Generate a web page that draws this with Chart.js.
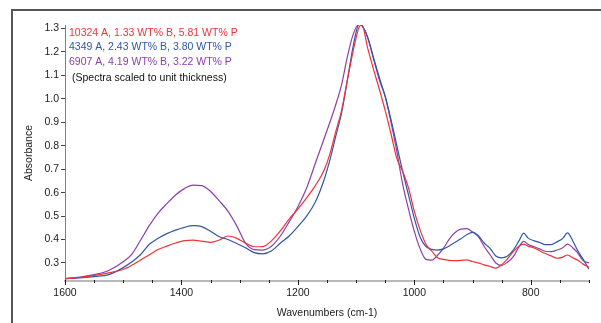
<!DOCTYPE html>
<html><head><meta charset="utf-8">
<script src="https://cdn.jsdelivr.net/npm/chart.js@4.4.1/dist/chart.umd.min.js"></script>
<style>html,body{margin:0;padding:0;background:#fff;overflow:hidden}canvas{display:block}</style>
</head><body>
<canvas id="c" width="601" height="323"></canvas>
<script>
// ---- data ----
const wavenumbers = [1600,1575,1550,1525,1500,1485,1470,1455,1440,1425,1410,1395,1380,1365,1350,1335,1320,1305,1290,1275,1260,1245,1230,1215,1200,1185,1170,1155,1145,1135,1125,1115,1105,1095,1090,1080,1070,1060,1050,1040,1030,1020,1010,1000,990,980,970,960,950,940,930,920,910,900,890,880,870,860,850,840,830,820,812,805,795,785,775,765,755,745,737,728,720,710,700];
const absorb10324 = [0.233,0.238,0.247,0.258,0.272,0.290,0.313,0.335,0.357,0.372,0.385,0.395,0.397,0.393,0.388,0.398,0.415,0.405,0.385,0.369,0.370,0.395,0.437,0.487,0.530,0.578,0.630,0.695,0.765,0.860,0.950,1.080,1.205,1.305,1.315,1.215,1.125,1.040,0.950,0.850,0.745,0.690,0.620,0.520,0.440,0.380,0.350,0.322,0.315,0.311,0.310,0.311,0.313,0.306,0.300,0.292,0.285,0.278,0.292,0.318,0.348,0.372,0.380,0.372,0.365,0.352,0.340,0.330,0.320,0.325,0.334,0.322,0.313,0.295,0.282];
const absorb4349 = [0.233,0.236,0.242,0.250,0.280,0.305,0.336,0.380,0.405,0.425,0.440,0.452,0.459,0.455,0.435,0.412,0.400,0.383,0.365,0.344,0.339,0.352,0.385,0.415,0.455,0.500,0.560,0.655,0.740,0.840,0.940,1.080,1.225,1.318,1.312,1.262,1.175,1.090,1.010,0.910,0.800,0.690,0.590,0.490,0.410,0.370,0.358,0.355,0.360,0.372,0.388,0.403,0.420,0.430,0.416,0.385,0.362,0.330,0.322,0.330,0.355,0.395,0.427,0.407,0.395,0.388,0.378,0.378,0.390,0.405,0.428,0.395,0.355,0.315,0.273];
const absorb6907 = [0.233,0.240,0.250,0.268,0.305,0.338,0.398,0.460,0.513,0.553,0.590,0.617,0.632,0.630,0.605,0.565,0.520,0.458,0.385,0.357,0.355,0.372,0.415,0.475,0.540,0.620,0.725,0.830,0.900,0.975,1.060,1.180,1.275,1.318,1.312,1.260,1.170,1.080,1.010,0.900,0.775,0.635,0.530,0.435,0.360,0.315,0.312,0.333,0.362,0.402,0.430,0.444,0.446,0.432,0.412,0.370,0.335,0.300,0.290,0.303,0.327,0.370,0.392,0.380,0.370,0.360,0.350,0.348,0.355,0.365,0.380,0.365,0.345,0.310,0.300];
const seriesLabels = ['10324 A, 1.33 WT% B, 5.81 WT% P','4349 A, 2.43 WT% B, 3.80 WT% P','6907 A, 4.19 WT% B, 3.22 WT% P'];
const noteText = '(Spectra scaled to unit thickness)';
const xTickValues = [1600,1550,1500,1450,1400,1350,1300,1250,1200,1150,1100,1050,1000,950,900,850,800,750,700];
const xLabelValues = [1600,1400,1200,1000,800];
const yTickValues = [0.3,0.4,0.5,0.6,0.7,0.8,0.9,1.0,1.1,1.2,1.3];
const xTitle = 'Wavenumbers (cm-1)';
const yTitle = 'Absorbance';

// ---- style ----
const colors = ['#f0323a','#2f57a6','#8c3fa6'];
const FONT = {family:'"Liberation Sans", Arial, sans-serif', size:10.5};

const toPts = arr => wavenumbers.map((w,i)=>({x:w,y:arr[i]}));

const framePlugin = {
  id:'frame',
  beforeDraw(chart){
    const c = chart.ctx;
    c.save();
    c.fillStyle='#fff'; c.fillRect(0,0,chart.width,chart.height);
    c.fillStyle='#555';
    c.fillRect(11,9,chart.width-11,2);
    c.fillRect(11,9,2,chart.height-9);
    c.restore();
  },
  afterDraw(chart){
    const c = chart.ctx, xs = chart.scales.x, ca = chart.chartArea;
    c.save();
    c.strokeStyle='#222'; c.lineWidth=1;
    xs.ticks.forEach(t=>{
      const px = Math.round(xs.getPixelForValue(t.value))+0.5;
      const major = xLabelValues.includes(t.value);
      c.beginPath(); c.moveTo(px, ca.bottom-1); c.lineTo(px, ca.bottom + (major?4:2)); c.stroke();
    });
    // annotation text
    c.font = FONT.size+'px '+FONT.family;
    c.textBaseline='middle'; c.textAlign='left';
    seriesLabels.forEach((s,i)=>{ c.fillStyle=colors[i]; c.fillText(s, ca.left+4, ca.top+8+i*14.5); });
    c.fillStyle='#111'; c.fillText(noteText, ca.left+7, ca.top+53);
    c.restore();
  }
};

new Chart(document.getElementById('c'), {
  type:'line',
  data:{datasets:[
    {label:seriesLabels[0], data:toPts(absorb10324), borderColor:colors[0]},
    {label:seriesLabels[1], data:toPts(absorb4349), borderColor:colors[1]},
    {label:seriesLabels[2], data:toPts(absorb6907), borderColor:colors[2]}
  ]},
  options:{
    responsive:false, animation:false, devicePixelRatio:1,
    layout:{padding:{top:25,right:12,left:0,bottom:0}},
    elements:{point:{radius:0},line:{borderWidth:1.2,tension:0,cubicInterpolationMode:'monotone',fill:false}},
    plugins:{legend:{display:false},tooltip:{enabled:false}},
    scales:{
      x:{type:'linear', reverse:true, min:700, max:1600,
        afterBuildTicks:s=>{s.ticks=xTickValues.map(v=>({value:v}));},
        afterFit:s=>{s.height=42;},
        grid:{drawOnChartArea:false, drawTicks:false},
        border:{color:'#b9b9b9', width:2},
        ticks:{autoSkip:false, maxRotation:0, padding:6, color:'#222', font:FONT,
          callback:v=>xLabelValues.includes(v)?String(v):''},
        title:{display:true, text:xTitle, color:'#222', font:FONT, padding:{top:0,bottom:4}}
      },
      y:{type:'linear', min:0.223, max:1.315,
        afterBuildTicks:s=>{s.ticks=yTickValues.map(v=>({value:v}));},
        afterFit:s=>{s.width=65;},
        grid:{drawOnChartArea:false, drawTicks:true, tickLength:4, color:'#444'},
        border:{color:'#808080', width:1, dash:[2,1]},
        ticks:{padding:2, color:'#222', font:FONT, callback:v=>v.toFixed(1)},
        title:{display:true, text:yTitle, color:'#222', font:FONT, padding:{top:23,bottom:0}}
      }
    }
  },
  plugins:[framePlugin]
});
</script>
</body></html>
